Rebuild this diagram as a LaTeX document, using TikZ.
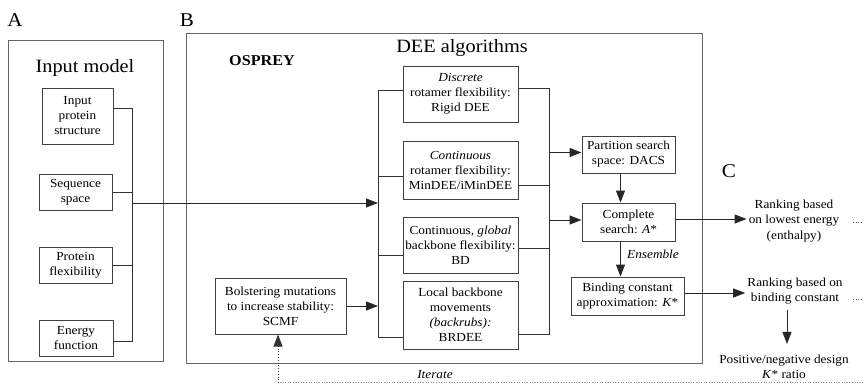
\documentclass[tikz,border=0pt]{standalone}
\usepackage{fontspec}
\setmainfont{Liberation Serif}[FakeStretch=1.08]
\usetikzlibrary{positioning,arrows.meta,calc}
\tikzset{
  frame/.style={draw=black!60, line width=0.9pt},
  panelid/.style={font=\fontsize{19.5}{22}\selectfont, inner sep=0pt},
  heading/.style={font=\fontsize{18.8}{22}\selectfont, inner sep=0pt},
  inbox/.style={draw=black!75, line width=1pt, align=center, inner sep=2pt,
                font=\fontsize{12.3}{15}\selectfont},
  outtxt/.style={align=center, inner sep=2pt, font=\fontsize{12.3}{15.5}\selectfont},
  wire/.style={line width=1pt, draw=black!80},
  flowarr/.style={-{Triangle[length=12pt,width=9pt]}, line width=1pt, draw=black!85},
  dotarr/.style={-{Triangle[length=12pt,width=9pt]}, dotted, line width=0.8pt, draw=black!80},
  dotwire/.style={dotted, line width=0.6pt, draw=black!45},
}
\begin{document}
\begin{tikzpicture}[x=1pt,y=-1pt]
  \useasboundingbox (0,0) rectangle (865,383);
  % panel letters
  \node[panelid] (idA) at (15,20) {A};
  \node[panelid] (idB) at (187,20) {B};
  \node[panelid] (idC) at (729,171) {C};

  % A: input model
  \draw[frame] (8,40) rectangle (163,361);
  \node[heading] (inhead) at (85,68) {Input model};
  \node[inbox, minimum width=71, minimum height=56] (struct) at (77.5,116) {Input\\protein\\structure};
  \node[inbox, minimum width=73, minimum height=36] (seq) at (75.5,192) {Sequence\\space};
  \node[inbox, minimum width=73, minimum height=36] (flex) at (75.5,265) {Protein\\flexibility};
  \node[inbox, minimum width=74, minimum height=36] (energy) at (76,338) {Energy\\function};
  \coordinate (inTop) at (132,108);
  \coordinate (inBot) at (132,341);
  \coordinate (inMid) at (132,203);
  \draw[wire] ([yshift=8pt]struct.east) -- (inTop) -- (inBot) -- ([yshift=-3pt]energy.east);
  \draw[wire] (seq.east) -- (seq.east -| inTop);
  \draw[wire] (flex.east) -- (flex.east -| inTop);

  % B: OSPREY
  \draw[frame] (186,33) rectangle (702,363);
  \node[font=\fontsize{15}{18}\selectfont\bfseries, inner sep=0pt] (osprey) at (262,61) {OSPREY};
  \node[heading] (deehead) at (462,48) {DEE algorithms};
  \node[inbox, minimum width=115, minimum height=56] (disc) at (460.5,94)
       {\textit{Discrete}\\rotamer flexibility:\\Rigid DEE};
  \node[inbox, minimum width=115, minimum height=58] (cont) at (460.5,170)
       {\textit{Continuous}\\rotamer flexibility:\\MinDEE/iMinDEE};
  \node[inbox, minimum width=115, minimum height=56] (glob) at (460.5,245)
       {Continuous, \textit{global}\\backbone flexibility:\\BD};
  \node[inbox, minimum width=115, minimum height=68] (local) at (460.5,315)
       {Local backbone\\movements\\\textit{(backrubs):}\\BRDEE};
  \node[inbox, minimum width=131, minimum height=56] (bolst) at (280.5,306)
       {Bolstering mutations\\to increase stability:\\SCMF};
  \node[inbox, minimum width=93, minimum height=37] (part) at (628.5,154.5)
       {Partition search\\space: DACS};
  \node[inbox, minimum width=93, minimum height=38] (comp) at (628.5,222)
       {Complete\\search: \textit{A}*};
  \node[inbox, minimum width=113, minimum height=38] (bind) at (627.5,296)
       {Binding constant\\approximation: \textit{K}*};

  % buses around the DEE boxes
  \coordinate (deeTop) at (378,90);
  \coordinate (deeBot) at (378,337);
  \draw[wire] ([yshift=4pt]disc.west) -- (deeTop) -- (deeBot) -- ([yshift=-22pt]local.west);
  \draw[wire] ([yshift=-6pt]cont.west) -- ([yshift=-6pt]cont.west -| deeTop);
  \draw[wire] ([yshift=-10pt]glob.west) -- ([yshift=-10pt]glob.west -| deeTop);
  \coordinate (outTop) at (549,88);
  \coordinate (outBot) at (549,334);
  \draw[wire] ([yshift=6pt]disc.east) -- (outTop) -- (outBot) -- ([yshift=-19pt]local.east);
  \draw[wire] ([yshift=-15pt]cont.east) -- ([yshift=-15pt]cont.east -| outTop);
  \draw[wire] ([yshift=-3pt]glob.east) -- ([yshift=-3pt]glob.east -| outTop);

  % flow
  \draw[flowarr] (inMid) -- (inMid -| deeTop);
  \draw[flowarr] (bolst.east) -- (bolst.east -| deeTop);
  \draw[flowarr] ([yshift=2pt]part.west -| outTop) -- ([yshift=2pt]part.west);
  \draw[flowarr] ([yshift=2pt]comp.west -| outTop) -- ([yshift=2pt]comp.west);
  \draw[flowarr] ([xshift=-8pt]part.south) -- ([xshift=-8pt]comp.north);
  \draw[flowarr] ([xshift=-8pt]comp.south) -- ([xshift=-8pt]comp.south |- bind.north);
  \node[font=\fontsize{12.3}{15}\selectfont\itshape, inner sep=0pt] (ens) at (653,254) {Ensemble};

  % C: ranking
  \node[outtxt] (rank1) at (794,221) {Ranking based\\on lowest energy\\(enthalpy)};
  \node[outtxt] (rank2) at (795,291) {Ranking based on\\binding constant};
  \node[outtxt, font=\fontsize{12.3}{15}\selectfont] (pos) at (784,367) {Positive/negative design\\\textit{K}* ratio};
  \draw[flowarr] ([yshift=3pt]comp.east) -- ([yshift=3pt]comp.east -| rank1.west);
  \draw[flowarr] ([yshift=3pt]bind.east) -- ([yshift=3pt]bind.east -| rank2.west);
  \draw[flowarr, shorten <=3pt, shorten >=9pt] ([xshift=-8pt]rank2.south) -- ([xshift=-8pt]rank2.south |- pos.north);
  \coordinate (stubA) at (853,222);
  \coordinate (stubB) at (853,299);
  \draw[dotwire, draw=black!70] (stubA) -- +(10,0);
  \draw[dotwire, draw=black!70] (stubB) -- +(10,0);

  % iterate loop
  \coordinate (iterFoot) at (278,383);
  \draw[dotarr] (iterFoot) -- (iterFoot |- bolst.south);
  \draw[dotwire] (280,382) -- (865,382);
  \node[font=\fontsize{12.3}{15}\selectfont\itshape, inner sep=0pt] (iter) at (435,375) {Iterate};
\end{tikzpicture}
\end{document}
